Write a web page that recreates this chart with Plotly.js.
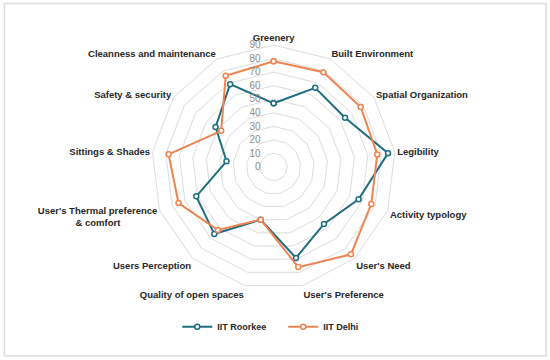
<!DOCTYPE html>
<html>
<head>
<meta charset="utf-8">
<script src="https://cdn.plot.ly/plotly-3.0.1.min.js"></script>
<style>
html,body{margin:0;padding:0;background:#fff;}
#chart{width:550px;height:360px;}
</style>
</head>
<body>
<div id="chart"></div>
<script>
const categories = [
  "Greenery", "Built Environment", "Spatial Organization", "Legibility",
  "Activity typology", "User's Need", "User's Preference",
  "Quality of open spaces", "Users Perception",
  "User's Thermal preference & comfort", "Sittings & Shades",
  "Safety & security", "Cleanness and maintenance"
];
const categoryLabels = [
  "Greenery", "Built Environment", "Spatial Organization", "Legibility",
  "Activity typology", "User's Need", "User's Preference",
  "Quality of open spaces", "Users Perception",
  "User's Thermal preference<br>& comfort\u00a0\u00a0\u00a0\u00a0\u00a0\u00a0\u00a0\u00a0\u00a0\u00a0\u00a0\u00a0\u00a0\u00a0",
  "Sittings & Shades", "Safety & security", "Cleanness and maintenance"
];
const roorkee = [47, 66, 64, 85, 67, 56, 69, 40, 66, 61, 35, 52, 69];
const delhi   = [78, 79, 78, 77, 77, 86, 76, 40, 62, 75, 78, 47, 76];
const radialTicks = [0, 10, 20, 30, 40, 50, 60, 70, 80, 90];

function closed(a){ return a.concat([a[0]]); }

const teal = '#1f6e80';
const orange = '#ee8450';
const pad = '\u00a0'.repeat(4);

const traces = [
  {
    type: 'scatterpolar', name: 'IIT Roorkee',
    r: closed(roorkee), theta: closed(categories),
    mode: 'lines+markers',
    line: {color: teal, width: 2},
    marker: {size: 5, color: '#ffffff', line: {color: teal, width: 1.5}},
    cliponaxis: false
  },
  {
    type: 'scatterpolar', name: 'IIT Delhi',
    r: closed(delhi), theta: closed(categories),
    mode: 'lines+markers',
    line: {color: orange, width: 2},
    marker: {size: 5, color: '#ffffff', line: {color: orange, width: 1.5}},
    cliponaxis: false
  }
];

const layout = {
  width: 550, height: 360,
  margin: {l: 0, r: 0, t: 0, b: 0, pad: 0},
  paper_bgcolor: '#ffffff',
  font: {family: 'Liberation Sans, Arial, sans-serif', color: '#262626'},
  showlegend: true,
  legend: {
    orientation: 'h', x: 0.515, xanchor: 'center', y: 0.0925, yanchor: 'middle',
    font: {size: 9, color: '#262626', family: 'Liberation Sans, Arial, sans-serif', weight: 'bold'},
    itemwidth: 30, entrywidth: 61, entrywidthmode: 'pixels', tracegroupgap: 0
  },
  polar: {
    domain: {x: [0.2, 0.795], y: [0.197, 0.875]},
    gridshape: 'linear',
    bgcolor: 'rgba(0,0,0,0)',
    radialaxis: {
      range: [0, 90],
      tickvals: radialTicks,
      ticktext: radialTicks.map(v => String(v) + pad),
      angle: 90,
      tickangle: 90,
      side: 'counterclockwise',
      showline: false,
      ticks: '',
      gridcolor: '#dcdcdc',
      gridwidth: 1,
      tickfont: {size: 10, color: '#8c8c8c'}
    },
    angularaxis: {
      direction: 'clockwise',
      rotation: 90,
      showgrid: false,
      showline: true,
      linecolor: '#dcdcdc',
      linewidth: 1,
      ticks: '',
      tickmode: 'array',
      tickvals: categories,
      ticktext: categoryLabels,
      tickfont: {size: 9.5, color: '#262626', weight: 'bold'}
    }
  },
  shapes: [{
    type: 'rect', xref: 'paper', yref: 'paper',
    x0: 0.008, x1: 0.993, y0: 0.012, y1: 0.99,
    line: {color: '#dedede', width: 1.5}
  }]
};

Plotly.newPlot('chart', traces, layout, {displayModeBar: false, staticPlot: true});
</script>
</body>
</html>
